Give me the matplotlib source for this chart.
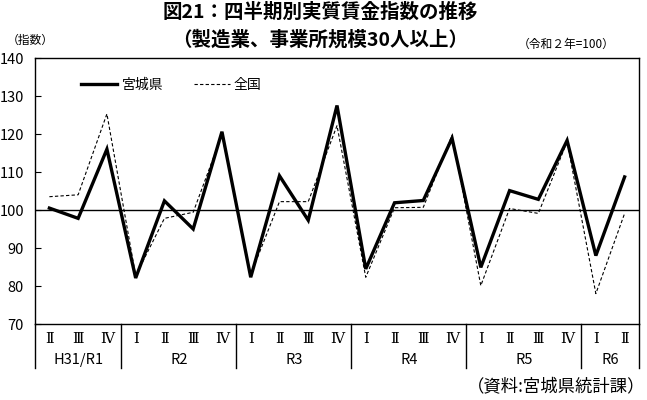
import numpy as np
import matplotlib.pyplot as plt
from matplotlib.lines import Line2D

plt.rcParams['font.family'] = ['Noto Sans CJK JP', 'DejaVu Sans']

# 四半期の並び（H31/R1 のⅡ期から R6 のⅡ期まで）
quarters = ['Ⅱ', 'Ⅲ', 'Ⅳ',
            'Ⅰ', 'Ⅱ', 'Ⅲ', 'Ⅳ',
            'Ⅰ', 'Ⅱ', 'Ⅲ', 'Ⅳ',
            'Ⅰ', 'Ⅱ', 'Ⅲ', 'Ⅳ',
            'Ⅰ', 'Ⅱ', 'Ⅲ', 'Ⅳ',
            'Ⅰ', 'Ⅱ']
years = ['H31/R1', 'R2', 'R3', 'R4', 'R5', 'R6']
year_len = [3, 4, 4, 4, 4, 2]

miyagi = [100.5, 97.8, 116.0,
          82.1, 102.4, 95.0, 120.6,
          82.3, 109.0, 97.3, 127.5,
          84.5, 101.9, 102.5, 118.9,
          84.9, 105.1, 102.8, 118.3,
          88.0, 108.7]
zenkoku = [103.5, 104.0, 125.3,
           82.7, 97.8, 99.4, 119.8,
           83.0, 102.2, 102.2, 122.2,
           82.3, 100.6, 100.7, 119.7,
           80.1, 100.4, 99.1, 118.0,
           78.0, 99.1]

x = np.arange(len(quarters))

fig = plt.figure(figsize=(6.47, 4.0), dpi=100)
ax = fig.add_axes([35 / 647, 1 - 324 / 400, 604 / 647, 266 / 400])

ax.plot(x, miyagi, color='black', lw=2.4, solid_joinstyle='miter', label='宮城県')
ax.plot(x, zenkoku, color='black', lw=0.8, ls=(0, (3, 2)), label='全国')
ax.axhline(100, color='black', lw=1.0, zorder=1)

ax.set_xlim(-0.5, len(quarters) - 0.5)
ax.set_ylim(70, 140)
ax.set_yticks(np.arange(70, 141, 10))
ax.tick_params(axis='y', direction='in', length=4, labelsize=10.5, pad=8)
ax.set_xticks([])
for s in ax.spines.values():
    s.set_linewidth(1.0)

# 四半期・年の区分表示
trans = ax.get_xaxis_transform()
for xi, q in zip(x, quarters):
    ax.text(xi, -0.055, q, transform=trans, ha='center', va='center', fontsize=10.5,
            family=['DejaVu Serif', 'Noto Sans CJK JP'])
start = 0
for name, n in zip(years, year_len):
    ax.text(start + (n - 1) / 2, -0.137, name, transform=trans,
            ha='center', va='center', fontsize=10.5)
    ax.plot([start - 0.5, start - 0.5], [0, -0.167], transform=trans,
            color='black', lw=1.0, clip_on=False)
    start += n
ax.plot([start - 0.5, start - 0.5], [0, -0.167], transform=trans,
        color='black', lw=1.0, clip_on=False)

handles = [Line2D([], [], color='black', lw=2.4),
           Line2D([], [], color='black', lw=0.8, ls=(0, (3, 2)))]
ax.legend(handles, ['宮城県', '全国'], loc='upper left', bbox_to_anchor=(0.065, 0.95),
          ncol=2, frameon=False, fontsize=10, handlelength=2.6,
          handletextpad=0.3, columnspacing=2.2, borderpad=0)

fig.text(0.495, 0.97, '図21：四半期別実質賃金指数の推移', ha='center', va='center',
         fontsize=14, fontweight='bold')
fig.text(0.495, 0.90, '（製造業、事業所規模30人以上）', ha='center', va='center',
         fontsize=14, fontweight='bold')
fig.text(0.01, 0.9, '（指数）', ha='left', va='center', fontsize=8.5)
fig.text(0.95, 0.89, '（令和２年=100）', ha='right', va='center', fontsize=8.5)
fig.text(0.998, 0.035, '（資料:宮城県統計課）', ha='right', va='center', fontsize=12.5)

fig.savefig('out.png', dpi=100)
